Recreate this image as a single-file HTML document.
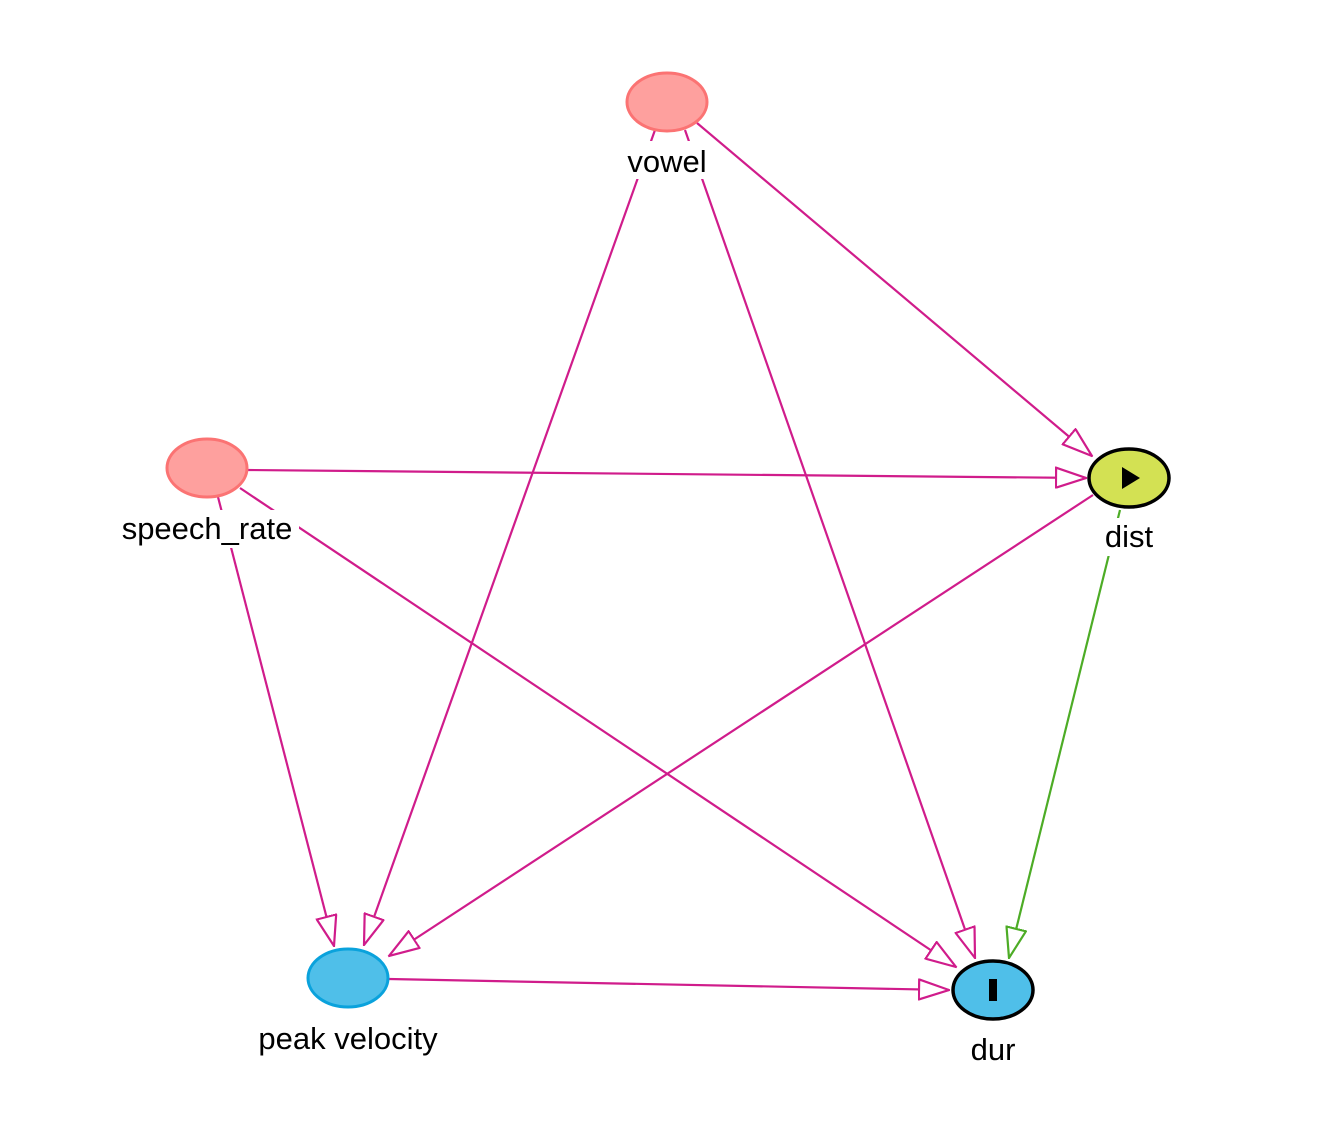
<!DOCTYPE html>
<html><head><meta charset="utf-8"><style>
html,body{margin:0;padding:0;background:#fff;}
svg{display:block;}
text{font-family:"Liberation Sans",Arial,sans-serif;font-size:31px;fill:#000;}
</style></head><body>
<svg width="1331" height="1147" viewBox="0 0 1331 1147" xmlns="http://www.w3.org/2000/svg">
<defs>
<marker id="mp" viewBox="0 0 32 22" refX="31" refY="11" markerWidth="32" markerHeight="22" markerUnits="userSpaceOnUse" orient="auto">
<path d="M1,1 L31,11 L1,21 Z" fill="#fff" stroke="#d01c8b" stroke-width="2.2"/>
</marker>
<marker id="mg" viewBox="0 0 32 22" refX="31" refY="11" markerWidth="32" markerHeight="22" markerUnits="userSpaceOnUse" orient="auto">
<path d="M1,1 L31,11 L1,21 Z" fill="#fff" stroke="#4dac26" stroke-width="2.2"/>
</marker>
</defs>
<g stroke="#d01c8b" stroke-width="2.2" fill="none">
<line x1="697" y1="123" x2="1092" y2="456" marker-end="url(#mp)"/>
<line x1="685" y1="130" x2="975" y2="958" marker-end="url(#mp)"/>
<line x1="655" y1="130" x2="364" y2="945" marker-end="url(#mp)"/>
<line x1="247" y1="470" x2="1086" y2="478" marker-end="url(#mp)"/>
<line x1="240" y1="488" x2="956" y2="967" marker-end="url(#mp)"/>
<line x1="218" y1="497" x2="334" y2="946" marker-end="url(#mp)"/>
<line x1="1093" y1="495" x2="389" y2="956" marker-end="url(#mp)"/>
<line x1="389" y1="979" x2="949" y2="990" marker-end="url(#mp)"/>
</g>
<line x1="1120" y1="510" x2="1009" y2="958" stroke="#4dac26" stroke-width="2.2" marker-end="url(#mg)"/>
<g fill="#fff">
<rect x="621" y="141" width="92" height="38"/>
<rect x="115" y="510" width="184" height="38"/>
<rect x="1099" y="518" width="60" height="38"/>
<rect x="252" y="1020" width="192" height="38"/>
<rect x="965" y="1031" width="56" height="38"/>
</g>
<ellipse cx="667" cy="102" rx="40" ry="29" fill="#fea09e" stroke="#fb7373" stroke-width="3"/>
<ellipse cx="207" cy="468" rx="40" ry="29" fill="#fea09e" stroke="#fb7373" stroke-width="3"/>
<ellipse cx="1129" cy="478" rx="40" ry="29" fill="#d3e153" stroke="#000" stroke-width="3.5"/>
<path d="M1122,467 L1140,478 L1122,489 Z" fill="#000"/>
<ellipse cx="348" cy="978" rx="40" ry="29" fill="#4fbfe9" stroke="#0aa2dc" stroke-width="3"/>
<ellipse cx="993" cy="990" rx="40" ry="29" fill="#4fbfe9" stroke="#000" stroke-width="3.5"/>
<rect x="989" y="979" width="8" height="22" fill="#000"/>
<text x="667" y="172" text-anchor="middle">vowel</text>
<text x="207" y="539" text-anchor="middle">speech_rate</text>
<text x="1129" y="547" text-anchor="middle">dist</text>
<text x="348" y="1049" text-anchor="middle">peak velocity</text>
<text x="993" y="1060" text-anchor="middle">dur</text>
</svg>
</body></html>
